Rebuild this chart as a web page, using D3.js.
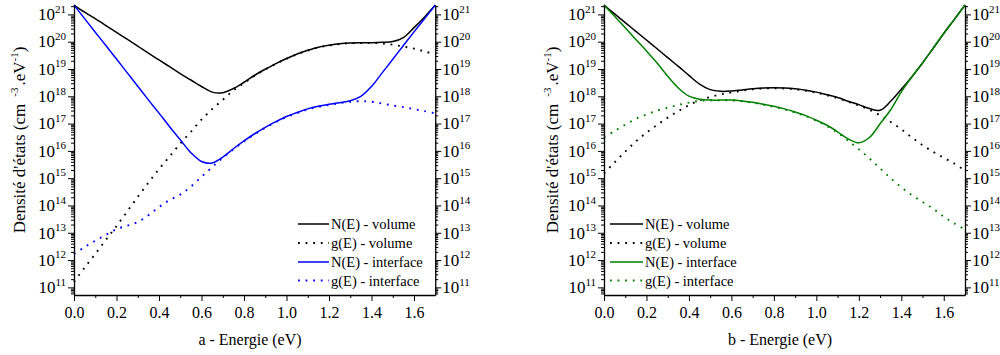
<!DOCTYPE html>
<html><head><meta charset="utf-8">
<script src="https://cdn.jsdelivr.net/npm/d3@7"></script>
<style>
body{margin:0;background:#fff}
svg{display:block}
</style>
</head><body>
<svg id="c" width="1000" height="355"></svg>
<script>
// ---------- DATA ----------
const energies = [0,0.05,0.1,0.15,0.2,0.25,0.3,0.35,0.4,0.45,0.5,0.55,0.6,0.65,0.7,0.75,0.8,0.85,0.9,0.95,1.0,1.05,1.1,1.15,1.2,1.25,1.3,1.35,1.4,1.45,1.5,1.55,1.6,1.65,1.7];

// panel a
const nVolA = [2.2e21,1.2e21,7.0e20,3.9e20,2.2e20,1.23e20,6.9e19,3.8e19,2.15e19,1.21e19,6.8e18,3.95e18,2.28e18,1.42e18,1.35e18,1.93e18,3.27e18,5.9e18,9.8e18,1.58e19,2.42e19,3.55e19,4.84e19,6.3e19,7.4e19,8.4e19,9.0e19,9.2e19,9.2e19,9.45e19,1.01e20,1.42e20,3.27e20,8.1e20,2.2e21];
const gVolA = [1.6e11,5.3e11,1.67e12,5.5e12,1.77e13,5.97e13,2.07e14,6.8e14,2.14e15,6.3e15,1.84e16,5.0e16,1.4e17,3.38e17,7.4e17,1.63e18,3.04e18,5.65e18,9.55e18,1.54e19,2.37e19,3.47e19,4.73e19,6.15e19,7.27e19,8.2e19,8.8e19,9.0e19,9.0e19,8.6e19,7.8e19,6.6e19,5.6e19,4.4e19,3.4e19];
const nIntA = [2.2e21,7.0e20,2.23e20,7.3e19,2.31e19,7.35e18,2.34e18,7.4e17,2.42e17,7.7e16,2.57e16,8.6e15,4.1e15,3.6e15,5.85e15,1.2e16,2.33e16,4.24e16,7.3e16,1.18e17,1.82e17,2.54e17,3.46e17,4.3e17,5.07e17,5.85e17,6.9e17,9.9e17,2.28e18,7.2e18,2.26e19,7.3e19,2.29e20,7.0e20,2.2e21];
const gIntA = [1.67e12,3.0e12,5.1e12,8.4e12,1.36e13,1.81e13,2.47e13,4.38e13,8.75e13,1.59e14,2.5e14,4.9e14,1.12e15,2.53e15,5.6e15,1.14e16,2.22e16,4.04e16,7.0e16,1.13e17,1.73e17,2.42e17,3.3e17,4.09e17,4.83e17,5.58e17,6.3e17,6.6e17,6.3e17,5.45e17,4.6e17,4.0e17,3.38e17,2.86e17,2.36e17];

// panel b
const nVolB = [2.2e21,1.05e21,5.0e20,2.4e20,1.15e20,5.5e19,2.6e19,1.25e19,5.8e18,2.8e18,1.75e18,1.52e18,1.56e18,1.71e18,1.88e18,2.02e18,2.07e18,2.02e18,1.88e18,1.67e18,1.42e18,1.14e18,9.0e17,6.6e17,4.95e17,3.55e17,3.07e17,6.6e17,1.8e18,5.2e18,1.66e19,5.75e19,2.0e20,6.6e20,2.2e21];
const gVolB = [1.5e15,3.8e15,9.4e15,2.22e16,4.66e16,8.9e16,1.65e17,2.86e17,4.72e17,7.1e17,9.4e17,1.17e18,1.38e18,1.6e18,1.8e18,1.93e18,1.98e18,1.93e18,1.8e18,1.6e18,1.35e18,1.09e18,8.6e17,6.3e17,4.6e17,3.22e17,2.0e17,1.15e17,6.2e16,3.1e16,1.63e16,9.2e15,5.6e15,3.4e15,1.9e15];
const nIntB = [2.2e21,8.5e20,3.27e20,1.2e20,4.6e19,1.65e19,5.4e18,2.02e18,1.01e18,7.8e17,7.25e17,7.25e17,7.25e17,6.75e17,6.0e17,5.07e17,4.3e17,3.46e17,2.66e17,1.95e17,1.33e17,8.7e16,5.0e16,2.76e16,1.97e16,3.1e16,9.8e16,3.22e17,1.45e18,5.2e18,1.66e19,5.75e19,2.0e20,6.6e20,2.2e21];
const gIntB = [3.1e16,5.4e16,9.1e16,1.5e17,2.15e17,3.0e17,3.8e17,4.83e17,5.85e17,6.75e17,7.1e17,7.1e17,7.1e17,6.6e17,5.85e17,4.95e17,4.09e17,3.3e17,2.54e17,1.86e17,1.27e17,8.1e16,4.66e16,2.33e16,1.14e16,5.3e15,2.3e15,1.0e15,4.66e14,2.39e14,1.35e14,7.6e13,3.9e13,2.2e13,1.33e13];

// ticks / labels
const xTickValues = [0,0.2,0.4,0.6,0.8,1.0,1.2,1.4,1.6];
const xTickLabels = ["0.0","0.2","0.4","0.6","0.8","1.0","1.2","1.4","1.6"];
const xMinorValues = [0.1,0.3,0.5,0.7,0.9,1.1,1.3,1.5];
const yTickExponents = [11,12,13,14,15,16,17,18,19,20,21];
const xDomain = [0, 1.7];
const yDomain = [5.25e10, 2.21e21];
const legendLabels = ["N(E) - volume","g(E) - volume","N(E) - interface","g(E) - interface"];
const xTitles = ["a - Energie (eV)","b - Energie (eV)"];

// ---------- DRAW ----------
const FONT = "Liberation Serif";
const svg = d3.select("#c");
const yTop = 5, yBot = 295;
const y = d3.scaleLog().domain(yDomain).range([yBot, yTop]);

const panels = [
  {x0:74, x1:435.25, color:"#0000ff", series:[nVolA,gVolA,nIntA,gIntA], title:xTitles[0], titleX:250, yTitleX:25, legX:298, legW:31},
  {x0:604, x1:965, color:"#008000", series:[nVolB,gVolB,nIntB,gIntB], title:xTitles[1], titleX:780, yTitleX:558, legX:610, legW:33}
];

const minors = [];
for (let e = 10; e <= 21; e++) for (let m = 2; m <= 9; m++) {
  const v = m * Math.pow(10, e);
  if (v >= yDomain[0] && v <= yDomain[1]) minors.push(v);
}
const majors = yTickExponents.map(e => Math.pow(10, e));

const dotted = "1.8,5.8";

function txt(sel) { return sel.style("font-family", FONT).attr("fill", "#000"); }

panels.forEach(p => {
  const x = d3.scaleLinear().domain(xDomain).range([p.x0, p.x1]);
  const g = svg.append("g");
  const styles = [
    {color:"#000", dash:null},
    {color:"#000", dash:dotted},
    {color:p.color, dash:null},
    {color:p.color, dash:dotted}
  ];
  const line = d3.line()
    .x((d,i) => x(energies[i]))
    .y(d => y(d))
    .curve(d3.curveCatmullRom.alpha(0.5));

  [1,3,0,2].forEach(k => {
    g.append("path")
      .attr("d", line(p.series[k]))
      .attr("fill","none")
      .attr("stroke", styles[k].color)
      .attr("stroke-width", styles[k].dash ? 1.9 : 1.5)
      .attr("stroke-dasharray", styles[k].dash)
      .attr("stroke-linecap","butt");
  });

  function styleAxis(sel) {
    sel.selectAll("path.domain").attr("stroke","#000").attr("stroke-width",1.3);
    sel.selectAll(".tick line").attr("stroke","#000").attr("stroke-width",1);
    sel.attr("font-family", null).attr("font-size", null);
  }
  g.append("g").attr("transform",`translate(${p.x0},0)`)
    .call(d3.axisLeft(y).tickValues(majors).tickSize(6).tickSizeOuter(0).tickFormat(() => ""))
    .call(styleAxis);
  g.append("g").attr("transform",`translate(${p.x0},0)`)
    .call(d3.axisLeft(y).tickValues(minors).tickSize(3).tickSizeOuter(0).tickFormat(() => ""))
    .call(styleAxis).select("path.domain").remove();
  g.append("g").attr("transform",`translate(${p.x1},0)`)
    .call(d3.axisRight(y).tickValues(majors).tickSize(6).tickSizeOuter(0).tickFormat(() => ""))
    .call(styleAxis);
  g.append("g").attr("transform",`translate(${p.x1},0)`)
    .call(d3.axisRight(y).tickValues(minors).tickSize(3).tickSizeOuter(0).tickFormat(() => ""))
    .call(styleAxis).select("path.domain").remove();
  const xa = g.append("g").attr("transform",`translate(0,${yBot})`)
    .call(d3.axisBottom(x).tickValues(xTickValues).tickSize(6).tickSizeOuter(0).tickPadding(6)
      .tickFormat((d,i) => xTickLabels[i]))
    .call(styleAxis);
  xa.selectAll(".tick text").attr("font-size", 16).call(txt);
  g.append("g").attr("transform",`translate(0,${yBot})`)
    .call(d3.axisBottom(x).tickValues(xMinorValues).tickSize(3).tickSizeOuter(0).tickFormat(() => ""))
    .call(styleAxis).select("path.domain").remove();

  yTickExponents.forEach(e => {
    const yy = y(Math.pow(10, e));
    [[p.x0 - 8, "end"], [p.x1 + 7, "start"]].forEach(([lx, anchor]) => {
      const t = g.append("text").attr("x", lx).attr("y", yy + 5.8).attr("text-anchor", anchor).call(txt);
      t.append("tspan").attr("font-size", 17).text("10");
      t.append("tspan").attr("font-size", 11).attr("dy", -7.5).text(String(e));
    });
  });

  g.append("text").attr("x", p.titleX).attr("y", 345).attr("text-anchor","middle")
    .attr("font-size", 16).call(txt).text(p.title);

  const yt = g.append("text")
    .attr("transform", `translate(${p.yTitleX},140) rotate(-90)`)
    .attr("text-anchor","middle").attr("font-size", 17).call(txt);
  yt.append("tspan").text("Densité d'états (cm");
  yt.append("tspan").attr("dx", 7).attr("dy", -7).attr("font-size", 11).text("-3");
  yt.append("tspan").attr("dx", 2).attr("dy", 7).text(".eV");
  yt.append("tspan").attr("dy", -7).attr("font-size", 11).text("-1");
  yt.append("tspan").attr("dy", 7).text(")");

  const rowsY = [224, 243, 262, 280.5];
  legendLabels.forEach((lab, k) => {
    g.append("line")
      .attr("x1", p.legX).attr("x2", p.legX + p.legW)
      .attr("y1", rowsY[k]).attr("y2", rowsY[k])
      .attr("stroke", styles[k].color)
      .attr("stroke-width", styles[k].dash ? 1.9 : 1.5)
      .attr("stroke-dasharray", styles[k].dash);
    g.append("text").attr("x", p.legX + p.legW + 2).attr("y", rowsY[k] + 5)
      .attr("font-size", 14.5).call(txt).text(lab);
  });
});
</script>
</body></html>
